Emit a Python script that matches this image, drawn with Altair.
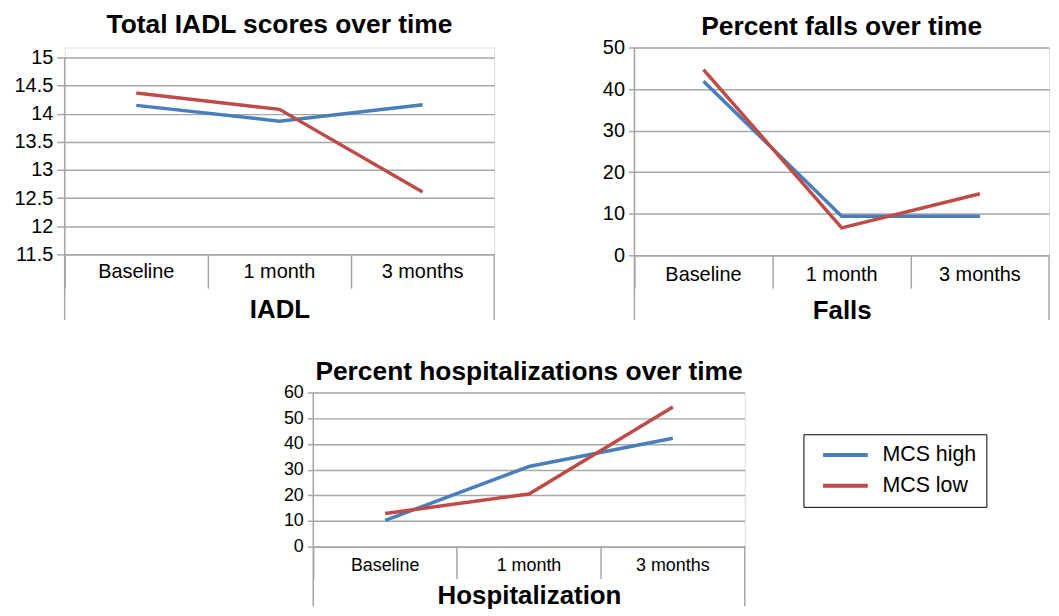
import altair as alt
import pandas as pd

categories = ["Baseline", "1 month", "3 months"]
series_names = ["MCS high", "MCS low"]

iadl_high = [14.15, 13.87, 14.16]
iadl_low = [14.37, 14.08, 12.61]

falls_high = [41.9, 9.4, 9.4]
falls_low = [44.7, 6.6, 14.8]

hosp_high = [10.2, 31.2, 42.2]
hosp_low = [12.9, 20.5, 54.4]

iadl_ticks = [11.5, 12, 12.5, 13, 13.5, 14, 14.5, 15]
falls_ticks = [0, 10, 20, 30, 40, 50]
hosp_ticks = [0, 10, 20, 30, 40, 50, 60]

FONT = "Liberation Sans"
GRID = "#a6a6a6"
COLORS = ["#4a7ebb", "#be4b48"]


def make_df(high, low):
    rows = []
    for c, h, l in zip(categories, high, low):
        rows.append({"time": c, "group": series_names[0], "value": h})
        rows.append({"time": c, "group": series_names[1], "value": l})
    return pd.DataFrame(rows)


def panel(df, title, xtitle, ydomain, yvalues, width, height, ext, top_gap,
          title_offset, label_size, tick_len, label_pad, title_pad,
          ytick=8, ypad=4, legend=None):
    x = alt.X(
        "time:N", sort=categories,
        scale=alt.Scale(type="band", paddingInner=0, paddingOuter=0),
        axis=alt.Axis(
            title=xtitle, bandPosition=0, labelAngle=0, tickSize=tick_len,
            labelPadding=label_pad, labelFontSize=label_size, labelColor="black",
            titleFontSize=26, titleFontWeight="bold", titleColor="black",
            titlePadding=title_pad, grid=False, domainColor=GRID, tickColor=GRID,
            domainWidth=1.5, tickWidth=1.5, labelFont=FONT, titleFont=FONT,
        ),
    )
    y = alt.Y(
        "value:Q",
        scale=alt.Scale(domain=ydomain, nice=False, zero=False),
        axis=alt.Axis(
            title=None, values=yvalues, format="~r", tickSize=ytick, labelPadding=ypad,
            labelFontSize=label_size, labelColor="black", labelFont=FONT,
            gridColor=GRID, gridWidth=1.5, domain=False,
            tickColor=GRID, tickWidth=1.5,
        ),
    )
    color = alt.Color("group:N", scale=alt.Scale(domain=series_names, range=COLORS),
                      legend=legend)
    lines = alt.Chart(df).mark_line(strokeWidth=3.5, clip=False).encode(x=x, y=y, color=color)
    one = pd.DataFrame({"k": [0]})
    rule_left = alt.Chart(one).mark_rule(color=GRID, strokeWidth=1.5).encode(
        x=alt.value(0), y=alt.value(top_gap), y2=alt.value(height + ext))
    rule_right = alt.Chart(one).mark_rule(color=GRID, strokeWidth=1.5).encode(
        x=alt.value(width), y=alt.value(height), y2=alt.value(height + ext))
    return alt.layer(lines, rule_left, rule_right).properties(
        width=width, height=height,
        title=alt.TitleParams(title, fontSize=26.5, font=FONT, fontWeight="bold",
                              color="black", offset=title_offset, frame="group",
                              anchor="middle"),
    )


iadl = panel(make_df(iadl_high, iadl_low), "Total IADL scores over time", "IADL",
             [11.5, 15.18], iadl_ticks, 432, 208, 66, 10, 9, 20, 34, -27, 8,
             ytick=8, ypad=4)
falls = panel(make_df(falls_high, falls_low), "Percent falls over time", "Falls",
              [0, 50], falls_ticks, 417, 209, 65, 0, -3, 20, 33, -24, 9,
              ytick=6, ypad=4)

legend = alt.Legend(
    orient="none", legendX=493, legendY=42, title=None,
    symbolType="M-2.8125,0H2.8125", symbolSize=256, symbolStrokeWidth=4,
    symbolOffset=21.5, labelOffset=26.5,
    labelFontSize=21.5, labelFont=FONT, labelColor="black",
    strokeColor="black", fillColor="white", padding=10, rowPadding=8,
)
hosp = panel(make_df(hosp_high, hosp_low), "Percent hospitalizations over time",
             "Hospitalization", [0, 60], hosp_ticks, 434, 155, 60, 0, -2, 18, 32, -22, 3,
             ytick=6, ypad=4, legend=legend)

spacer = alt.Chart(pd.DataFrame({"k": [0]})).mark_text(text="", opacity=0).encode(
    x=alt.value(0), y=alt.value(0)
).properties(
    width=219, height=1,
    view=alt.ViewBackground(stroke="transparent", fill="transparent", strokeWidth=0),
)

top = alt.hconcat(iadl, falls, spacing=106).resolve_scale(color="independent")
bottom = alt.hconcat(spacer, hosp, spacing=0).resolve_scale(color="independent")

chart = alt.vconcat(top, bottom, spacing=34).resolve_scale(color="independent").properties(
    padding={"left": 5, "top": 2, "right": 0, "bottom": 0}
).configure_view(stroke="transparent", strokeWidth=0).configure(font=FONT, background="white")

chart.save("out.html", embed_options={"renderer": "svg", "actions": False})
